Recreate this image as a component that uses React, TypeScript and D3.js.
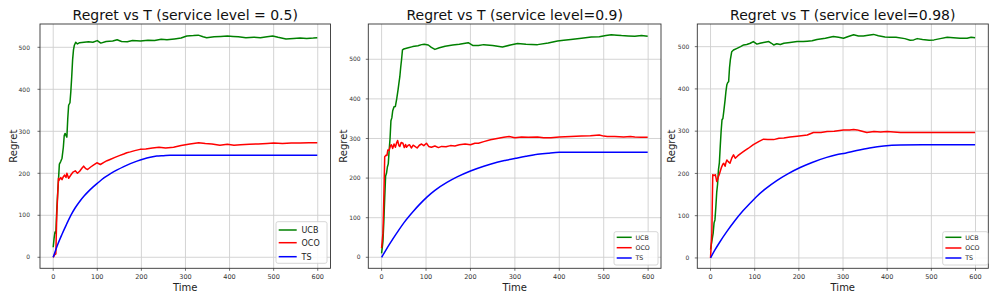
import React, { useEffect, useRef } from "react";
import * as d3 from "d3";

type Pt = [number, number];

// service level = 0.5
const ucb05: Pt[] = [[0,24],[2,45],[4,60],[6,58],[8,110],[10,150],[12,185],[14,222],[17,228],[20,236],[23,262],[25,290],[27,295],[29,290],[31,286],[33,330],[35,362],[38,368],[40,395],[42,430],[44,470],[46,494],[48,505],[51,512],[55,508],[60,511],[70,512],[80,513],[90,512],[100,516],[108,510],[120,514],[135,515],[145,518],[155,514],[168,513],[180,516],[198,515],[215,517],[230,516],[245,519],[258,518],[275,520],[290,522],[303,527],[318,528],[329,529],[340,525],[348,523],[365,525],[380,526],[395,527],[408,526],[420,525],[437,523],[455,524],[470,523],[485,525],[498,527],[510,524],[528,520],[545,521],[560,522],[575,521],[590,522],[599,523]];
const oco05: Pt[] = [[0,0],[3,6],[6,8],[8,98],[10,146],[12,188],[14,184],[17,190],[20,185],[23,192],[26,196],[29,190],[31,200],[35,188],[40,196],[45,203],[50,206],[55,200],[60,205],[65,212],[69,217],[74,211],[78,209],[85,215],[92,220],[99,225],[107,221],[115,226],[122,230],[129,233],[140,238],[150,242],[160,246],[167,249],[175,251],[185,254],[197,257],[210,258],[225,260],[240,262],[255,260],[273,262],[290,266],[310,270],[330,273],[345,271],[360,270],[378,267],[395,269],[410,267],[425,268],[445,269],[465,270],[485,271],[500,272],[520,271],[540,272],[560,272],[580,273],[599,273]];
const ts05: Pt[] = [[0,0],[10,30],[20,55],[30,78],[40,100],[50,118],[60,133],[70,146],[80,157],[90,167],[100,176],[115,189],[130,199],[145,208],[160,216],[175,223],[190,229],[205,234],[220,238],[235,241],[250,242],[265,243],[599,243]];

// service level = 0.9
const ucb09: Pt[] = [[0,10],[3,40],[5,90],[7,150],[9,205],[11,212],[13,228],[15,236],[17,270],[19,300],[21,345],[23,352],[25,370],[28,380],[31,381],[34,400],[37,423],[39,440],[41,456],[43,480],[45,500],[47,524],[50,526],[60,529],[70,532],[82,534],[90,537],[96,538],[105,536],[112,530],[120,525],[130,529],[143,533],[160,536],[175,538],[195,542],[205,535],[218,535],[230,537],[250,535],[272,531],[290,536],[306,540],[325,538],[351,537],[375,541],[396,546],[410,548],[426,550],[450,553],[472,556],[490,557],[505,560],[517,562],[530,561],[540,560],[555,559],[570,558],[585,560],[599,558]];
const oco09: Pt[] = [[0,23],[3,61],[5,150],[7,254],[10,258],[12,257],[14,271],[17,270],[20,282],[22,284],[25,275],[28,286],[31,278],[34,290],[36,295],[39,282],[41,280],[44,290],[48,288],[51,277],[54,285],[56,278],[60,283],[63,284],[67,276],[71,283],[75,280],[80,276],[85,283],[90,286],[95,282],[101,288],[106,280],[112,278],[120,281],[128,277],[135,280],[145,279],[155,282],[165,281],[175,284],[188,286],[200,284],[210,288],[218,288],[230,292],[245,297],[260,300],[275,303],[287,305],[300,302],[315,304],[330,303],[351,304],[365,302],[381,302],[400,304],[426,305],[450,306],[470,307],[490,309],[500,306],[508,305],[525,305],[545,304],[560,305],[570,304],[585,303],[599,303]];
const ts09: Pt[] = [[0,0],[10,19],[20,37],[34,61],[50,87],[72,117],[85,133],[102,152],[120,169],[147,189],[170,203],[200,218],[230,230],[260,240],[280,245],[302,250],[325,255],[351,260],[375,263],[400,265],[599,265]];

// service level = 0.98
const ucb098: Pt[] = [[0,20],[3,40],[6,59],[8,83],[10,90],[12,120],[14,155],[16,175],[18,209],[20,225],[22,264],[24,300],[26,327],[28,330],[30,347],[33,374],[35,395],[37,410],[39,415],[41,417],[43,450],[45,470],[48,488],[52,492],[60,496],[68,500],[75,504],[82,505],[90,508],[97,512],[105,506],[112,508],[120,510],[132,512],[138,508],[143,504],[150,507],[158,505],[166,508],[180,510],[196,512],[210,512],[219,513],[230,514],[241,517],[260,520],[278,524],[290,522],[301,520],[312,524],[324,528],[335,525],[346,525],[357,527],[369,529],[380,526],[395,523],[407,522],[420,522],[440,519],[452,515],[460,516],[468,519],[480,517],[495,515],[506,516],[520,519],[536,522],[550,521],[565,520],[581,520],[590,522],[599,521]];
const oco098: Pt[] = [[0,0],[3,59],[5,197],[8,195],[11,197],[14,181],[16,186],[18,193],[20,198],[22,205],[25,215],[28,222],[30,224],[33,217],[35,226],[37,232],[40,228],[44,224],[48,236],[52,244],[56,236],[62,242],[68,247],[75,252],[85,259],[97,268],[110,276],[120,281],[130,280],[143,280],[155,283],[166,284],[180,286],[196,288],[210,290],[219,291],[233,297],[250,297],[264,299],[280,300],[301,303],[315,303],[324,304],[332,303],[339,301],[354,297],[370,299],[385,298],[400,299],[415,298],[430,297],[450,297],[480,297],[520,297],[560,297],[599,297]];
const ts098: Pt[] = [[0,0],[10,19],[20,36],[36,61],[55,88],[74,112],[90,130],[104,145],[125,164],[150,183],[175,199],[203,214],[230,226],[263,238],[285,244],[305,248],[331,254],[360,260],[392,265],[430,267.5],[480,268],[599,268]];

const titles = ["Regret vs T (service level = 0.5)", "Regret vs T (service level=0.9)", "Regret vs T (service level=0.98)"];
const seriesNames = ["UCB", "OCO", "TS"];
const seriesColors = ["green", "red", "blue"];
const xTicks = [0, 100, 200, 300, 400, 500, 600];
const yTicks = [0, 100, 200, 300, 400, 500];

const panels = [
  { data: [ucb05, oco05, ts05], left: 40, right: 330.5, yDom: [-26.2, 555.5], tickGap: 10, ylabX: 13.5,
    leg: { x: 276, y: 221.7, w: 51, h: 41.6, fs: 8, hl: 18, rows: [230, 242.7, 256.7] } },
  { data: [ucb09, oco09, ts09], left: 368.3, right: 661, yDom: [-27.8, 589.1], tickGap: 7.6, ylabX: 343.5,
    leg: { x: 614, y: 231.7, w: 44, h: 33.3, fs: 6.3, hl: 15, rows: [237.3, 247.7, 258] } },
  { data: [ucb098, oco098, ts098], left: 697.3, right: 988.3, yDom: [-24.5, 553.6], tickGap: 8, ylabX: 671.5,
    leg: { x: 942.7, y: 231.7, w: 45.3, h: 33.3, fs: 6.3, hl: 16, rows: [237.3, 248, 258] } },
];

const FONT = "DejaVu Sans, sans-serif";

export default function App() {
  const ref = useRef<SVGSVGElement>(null);

  useEffect(() => {
    const svg = d3.select(ref.current);
    svg.selectAll("*").remove();
    const top = 24;
    const bottom = 268.3;

    panels.forEach((p, i) => {
      const x = d3.scaleLinear().domain([-29.95, 628.95]).range([p.left, p.right]);
      const y = d3.scaleLinear().domain(p.yDom).range([bottom, top]);
      const g = svg.append("g");

      // grid
      g.selectAll(".vg").data(xTicks).enter().append("line")
        .attr("x1", d => x(d)).attr("x2", d => x(d))
        .attr("y1", top).attr("y2", bottom)
        .attr("stroke", "#cfcfcf").attr("stroke-width", 0.9);
      g.selectAll(".hg").data(yTicks).enter().append("line")
        .attr("y1", d => y(d)).attr("y2", d => y(d))
        .attr("x1", p.left).attr("x2", p.right)
        .attr("stroke", "#cfcfcf").attr("stroke-width", 0.9);

      // lines (TS is a smooth curve, the others jagged)
      p.data.forEach((s, k) => {
        const line = d3.line<Pt>().x(d => x(d[0])).y(d => y(d[1]))
          .curve(k === 2 ? d3.curveMonotoneX : d3.curveLinear);
        g.append("path").datum(s)
          .attr("d", line)
          .attr("fill", "none")
          .attr("stroke", seriesColors[k])
          .attr("stroke-width", 1.5)
          .attr("stroke-linejoin", "round");
      });

      // frame
      g.append("rect")
        .attr("x", p.left).attr("y", top)
        .attr("width", p.right - p.left).attr("height", bottom - top)
        .attr("fill", "none").attr("stroke", "#333").attr("stroke-width", 0.9);

      // ticks
      g.selectAll(".xt").data(xTicks).enter().append("line")
        .attr("x1", d => x(d)).attr("x2", d => x(d))
        .attr("y1", bottom).attr("y2", bottom + 2.5)
        .attr("stroke", "#333").attr("stroke-width", 0.7);
      g.selectAll(".xl").data(xTicks).enter().append("text")
        .attr("x", d => x(d)).attr("y", 279)
        .attr("text-anchor", "middle")
        .attr("font-family", FONT).attr("font-size", 6.5).attr("fill", "#333")
        .text(d => d);
      g.selectAll(".yt").data(yTicks).enter().append("line")
        .attr("x1", p.left - 2.5).attr("x2", p.left)
        .attr("y1", d => y(d)).attr("y2", d => y(d))
        .attr("stroke", "#333").attr("stroke-width", 0.7);
      g.selectAll(".yl").data(yTicks).enter().append("text")
        .attr("x", p.left - p.tickGap).attr("y", d => y(d) + 2.2)
        .attr("text-anchor", "end")
        .attr("font-family", FONT).attr("font-size", 6).attr("fill", "#333")
        .text(d => d);

      // labels
      g.append("text")
        .attr("x", (p.left + p.right) / 2).attr("y", 20)
        .attr("text-anchor", "middle")
        .attr("font-family", FONT).attr("font-size", 14).attr("fill", "#111")
        .text(titles[i]);
      g.append("text")
        .attr("x", (p.left + p.right) / 2).attr("y", 290.5)
        .attr("text-anchor", "middle")
        .attr("font-family", FONT).attr("font-size", 10).attr("fill", "#222")
        .text("Time");
      g.append("text")
        .attr("transform", `translate(${p.ylabX + 3.5},${(top + bottom) / 2}) rotate(-90)`)
        .attr("text-anchor", "middle")
        .attr("font-family", FONT).attr("font-size", 10).attr("fill", "#222")
        .text("Regret");

      // legend
      const L = p.leg;
      g.append("rect")
        .attr("x", L.x).attr("y", L.y).attr("width", L.w).attr("height", L.h)
        .attr("rx", 2).attr("fill", "white").attr("fill-opacity", 0.85)
        .attr("stroke", "#cccccc").attr("stroke-width", 0.8);
      seriesNames.forEach((name, k) => {
        g.append("line")
          .attr("x1", L.x + 2.7).attr("x2", L.x + 2.7 + L.hl)
          .attr("y1", L.rows[k]).attr("y2", L.rows[k])
          .attr("stroke", seriesColors[k]).attr("stroke-width", 1.5);
        g.append("text")
          .attr("x", L.x + 2.7 + L.hl + L.fs * 0.6).attr("y", L.rows[k] + L.fs * 0.36)
          .attr("font-family", FONT).attr("font-size", L.fs).attr("fill", "#222")
          .text(name);
      });
    });
  }, []);

  return (
    <svg ref={ref} width={996} height={300}
      style={{ position: "absolute", left: 0, top: 0, background: "white" }} />
  );
}
